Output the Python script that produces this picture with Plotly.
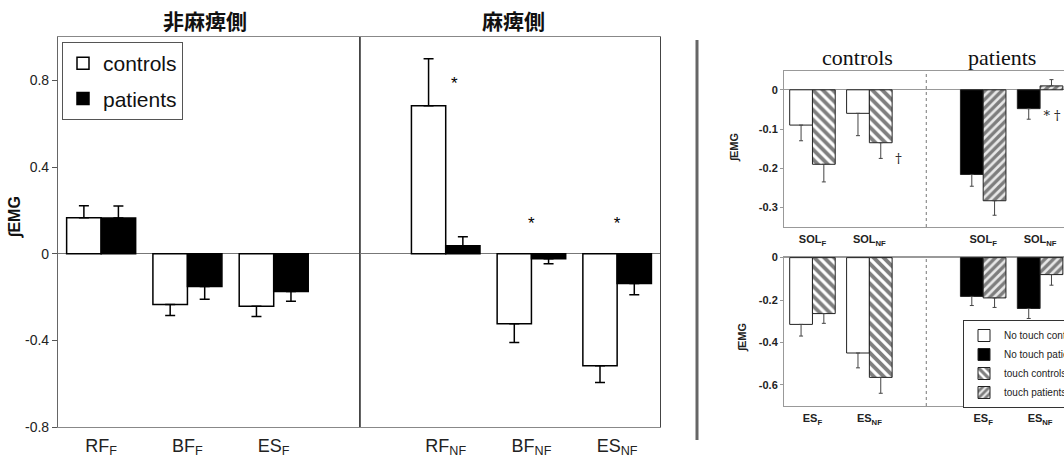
import plotly.graph_objects as go

# ---------------- data: left figure ----------------
left_categories = ["RF<sub>F</sub>", "BF<sub>F</sub>", "ES<sub>F</sub>"]
left_controls = [0.166, -0.235, -0.243]
left_controls_err = [0.055, 0.050, 0.047]
left_patients = [0.165, -0.152, -0.175]
left_patients_err = [0.055, 0.058, 0.045]

right_categories = ["RF<sub>NF</sub>", "BF<sub>NF</sub>", "ES<sub>NF</sub>"]
right_controls = [0.683, -0.323, -0.517]
right_controls_err = [0.217, 0.087, 0.078]
right_patients = [0.037, -0.023, -0.138]
right_patients_err = [0.041, 0.023, 0.052]

sig_x = [0.1, 1.0, 2.0]
sig_y = [0.78, 0.135, 0.135]

left_yticks = [0.8, 0.4, 0, -0.4, -0.8]
left_yticktext = ["0.8", "0.4", "0", "-0.4", "-0.8"]

# ---------------- data: right (scanned) figure ----------------
cat_pos = [0, 1, 3, 4]
sol_labels = ["SOL<sub>F</sub>", "SOL<sub>NF</sub>", "SOL<sub>F</sub>", "SOL<sub>NF</sub>"]
es_labels = ["ES<sub>F</sub>", "ES<sub>NF</sub>", "ES<sub>F</sub>", "ES<sub>NF</sub>"]

sol_notouch_controls = [-0.09, -0.06]
sol_notouch_controls_err = [0.04, 0.057]
sol_touch_controls = [-0.19, -0.135]
sol_touch_controls_err = [0.045, 0.04]
sol_notouch_patients = [-0.216, -0.048]
sol_notouch_patients_err = [0.03, 0.027]
sol_touch_patients = [-0.283, 0.01]
sol_touch_patients_err = [0.037, 0.016]

es_notouch_controls = [-0.315, -0.45]
es_notouch_controls_err = [0.055, 0.07]
es_touch_controls = [-0.264, -0.565]
es_touch_controls_err = [0.046, 0.075]
es_notouch_patients = [-0.183, -0.24]
es_notouch_patients_err = [0.043, 0.047]
es_touch_patients = [-0.19, -0.08]
es_touch_patients_err = [0.045, 0.05]

sol_yticks = [0, -0.1, -0.2, -0.3]
es_yticks = [0, -0.2, -0.4, -0.6]

W, H = 1064, 466
SANS = "Liberation Sans, Arial, sans-serif"
SERIF = "Liberation Serif, Times New Roman, serif"
DSERIF = "DejaVu Serif, serif"
CJK = "Noto Sans CJK JP, sans-serif"


def px(x):
    return x / W


def py(y):
    return 1 - y / H


def err(vals, errs, thick=1.5, width=5, color="black"):
    return dict(
        type="data", symmetric=False,
        array=[e if v >= 0 else 0 for v, e in zip(vals, errs)],
        arrayminus=[e if v < 0 else 0 for v, e in zip(vals, errs)],
        color=color, thickness=thick, width=width,
    )


fig = go.Figure()

# ----- left figure bars -----
def add_main(xs, vals, errs, fill, name, xa, ya, show, group):
    fig.add_trace(go.Bar(
        x=xs, y=vals, name=name, xaxis=xa, yaxis=ya,
        offset=-0.4 if fill == "white" else 0.0, width=0.4,
        marker=dict(color=fill, line=dict(color="black", width=1.5)),
        error_y=err(vals, errs), showlegend=show, legend="legend",
        legendgroup=group,
    ))

add_main([0, 1, 2], left_controls, left_controls_err, "white", "controls", "x", "y", True, "c")
add_main([0, 1, 2], left_patients, left_patients_err, "black", "patients", "x", "y", True, "p")
add_main([0, 1, 2], right_controls, right_controls_err, "white", "controls", "x2", "y2", False, "c")
add_main([0, 1, 2], right_patients, right_patients_err, "black", "patients", "x2", "y2", False, "p")

fig.add_trace(go.Scatter(
    x=sig_x, y=sig_y, mode="text", text=["*"] * 3, xaxis="x2", yaxis="y2",
    textfont=dict(family=SANS, size=17, color="black"), showlegend=False,
    cliponaxis=False,
))

# ----- right figure bars -----
def add_small(vals, errs, kind, name, xa, ya, show, xs):
    if kind == "nc":
        marker = dict(color="white", line=dict(color="#222", width=1))
        off = -0.4
    elif kind == "np":
        marker = dict(color="black", line=dict(color="#222", width=1))
        off = -0.4
    elif kind == "tc":
        marker = dict(color="white", line=dict(color="#222", width=1),
                      pattern=dict(shape="\\", fgcolor="black", bgcolor="white",
                                   size=7, solidity=0.55))
        off = 0.0
    else:
        marker = dict(color="white", line=dict(color="#222", width=1),
                      pattern=dict(shape="/", fgcolor="#111", bgcolor="#e8e8e8",
                                   size=6, solidity=0.55))
        off = 0.0
    fig.add_trace(go.Bar(
        x=xs, y=vals, name=name, xaxis=xa, yaxis=ya, offset=off, width=0.4,
        marker=marker, error_y=err(vals, errs, thick=1, width=2, color="#444"),
        showlegend=show, legend="legend2",
    ))

ctrl_x = cat_pos[:2]
pat_x = cat_pos[2:]
# bottom panel first for legend order
add_small(es_notouch_controls, es_notouch_controls_err, "nc", "No touch controls", "x4", "y4", True, ctrl_x)
add_small(es_notouch_patients, es_notouch_patients_err, "np", "No touch patients", "x4", "y4", True, pat_x)
add_small(es_touch_controls, es_touch_controls_err, "tc", "touch controls", "x4", "y4", True, ctrl_x)
add_small(es_touch_patients, es_touch_patients_err, "tp", "touch patients", "x4", "y4", True, pat_x)

add_small(sol_notouch_controls, sol_notouch_controls_err, "nc", "No touch controls", "x3", "y3", False, ctrl_x)
add_small(sol_notouch_patients, sol_notouch_patients_err, "np", "No touch patients", "x3", "y3", False, pat_x)
add_small(sol_touch_controls, sol_touch_controls_err, "tc", "touch controls", "x3", "y3", False, ctrl_x)
add_small(sol_touch_patients, sol_touch_patients_err, "tp", "touch patients", "x3", "y3", False, pat_x)

fig.add_trace(go.Scatter(
    x=[1.51, 4.21], y=[-0.178, -0.068], mode="text", text=["†", "* †"],
    xaxis="x3", yaxis="y3", textfont=dict(family=DSERIF, size=13, color="#222"),
    showlegend=False, cliponaxis=False,
))

# ----- axes -----
border = "#888"
main_x_common = dict(
    showline=True, linecolor=border, linewidth=1.2, mirror=True,
    showgrid=False, zeroline=False, ticks="", ticklabelstandoff=2,
    tickfont=dict(family=SANS, size=18, color="#222"), tickmode="array",
    tickvals=[0, 1, 2],
)
fig.update_layout(
    xaxis=dict(domain=[px(58), px(360)], range=[-0.5, 3.0], anchor="y",
               ticktext=left_categories, **main_x_common),
    xaxis2=dict(domain=[px(360), px(660)], range=[-1.0, 2.5], anchor="y2",
                ticktext=right_categories, **main_x_common),
    yaxis=dict(domain=[py(427), py(37)], range=[-0.8, 1.0], anchor="x",
               showline=True, linecolor="#666", linewidth=1.2, mirror=True,
               showgrid=False, zeroline=True, zerolinecolor="#777", zerolinewidth=1,
               ticks="outside", ticklen=5, tickcolor="#555", tickmode="array",
               tickvals=left_yticks, ticktext=left_yticktext,
               tickfont=dict(family=SANS, size=14, color="#222")),
    yaxis2=dict(domain=[py(427), py(37)], range=[-0.8, 1.0], anchor="x2",
                showline=True, linecolor="#444", linewidth=1.2, mirror=True,
                showgrid=False, zeroline=True, zerolinecolor="#777", zerolinewidth=1,
                showticklabels=False, ticks=""),
)

small_x = dict(
    domain=[px(784), 1.0], range=[-0.5, 4.42], showline=True, linecolor="#999",
    linewidth=1, mirror=True, showgrid=False, zeroline=False, ticks="",
    tickmode="array", tickvals=cat_pos, ticklabelstandoff=2,
    tickfont=dict(family=SANS, size=11, color="#222", weight="bold"),
)
small_y = dict(
    showline=True, linecolor="#999", linewidth=1, mirror=True, showgrid=False,
    zeroline=True, zerolinecolor="#999", zerolinewidth=1, ticks="outside",
    ticklen=3, tickcolor="#999", tickmode="array",
    tickfont=dict(family=SANS, size=11, color="#222", weight="bold"),
)
fig.update_layout(
    xaxis3=dict(anchor="y3", ticktext=sol_labels, **small_x),
    xaxis4=dict(anchor="y4", ticktext=es_labels, **small_x),
    yaxis3=dict(domain=[py(227), py(71)], range=[-0.35, 0.048], anchor="x3",
                tickvals=sol_yticks, ticktext=["0", "-0.1", "-0.2", "-0.3"], **small_y),
    yaxis4=dict(domain=[py(406), py(257)], range=[-0.7, 0.003], anchor="x4",
                tickvals=es_yticks, ticktext=["0", "-0.2", "-0.4", "-0.6"], **small_y),
)

# ----- shapes -----
fig.add_shape(type="line", xref="paper", yref="paper", x0=px(697), x1=px(697),
              y0=py(40), y1=py(440), line=dict(color="#666", width=3))
for xa, ya in (("x3", "y3"), ("x4", "y4")):
    fig.add_shape(type="line", xref=xa, yref=ya + " domain", x0=2, x1=2, y0=0, y1=1,
                  line=dict(color="#777", width=1, dash="dot"))

# ----- annotations -----
ann = [
    dict(text="<b>非麻痺側</b>", x=px(205), y=py(20), font=dict(family=CJK, size=21, color="#111")),
    dict(text="<b>麻痺側</b>", x=px(513), y=py(20), font=dict(family=CJK, size=21, color="#111")),
    dict(text="<b>∫EMG</b>", x=px(15), y=py(218), textangle=-90,
         font=dict(family=SANS, size=16, color="#111")),
    dict(text="controls", x=px(857), y=py(57), font=dict(family=SERIF, size=22, color="#111")),
    dict(text="patients", x=px(1002), y=py(57), font=dict(family=SERIF, size=22, color="#111")),
    dict(text="<b>∫EMG</b>", x=px(734), y=py(148), textangle=-90,
         font=dict(family=SANS, size=11, color="#222")),
    dict(text="<b>∫EMG</b>", x=px(742), y=py(338), textangle=-90,
         font=dict(family=SANS, size=11, color="#222")),
]
for a in ann:
    fig.add_annotation(xref="paper", yref="paper", showarrow=False,
                       xanchor="center", yanchor="middle", **a)

fig.update_layout(
    width=W, height=H, margin=dict(l=0, r=0, t=0, b=0, autoexpand=False),
    paper_bgcolor="white", plot_bgcolor="rgba(0,0,0,0)", barmode="overlay",
    legend=dict(x=px(62), y=py(42), xanchor="left", yanchor="top",
                bgcolor="white", bordercolor="#555", borderwidth=1,
                font=dict(family=SANS, size=21, color="#111"),
                traceorder="grouped", tracegroupgap=5, itemwidth=30),
    legend2=dict(x=px(963), y=py(320), xanchor="left", yanchor="top",
                 bgcolor="white", bordercolor="#333", borderwidth=1,
                 font=dict(family=SANS, size=10, color="#222"),
                 tracegroupgap=0, itemwidth=30),
    showlegend=True,
)

fig.write_html("out.html", config={"displayModeBar": False},
               post_script="document.body.style.margin='0';")
